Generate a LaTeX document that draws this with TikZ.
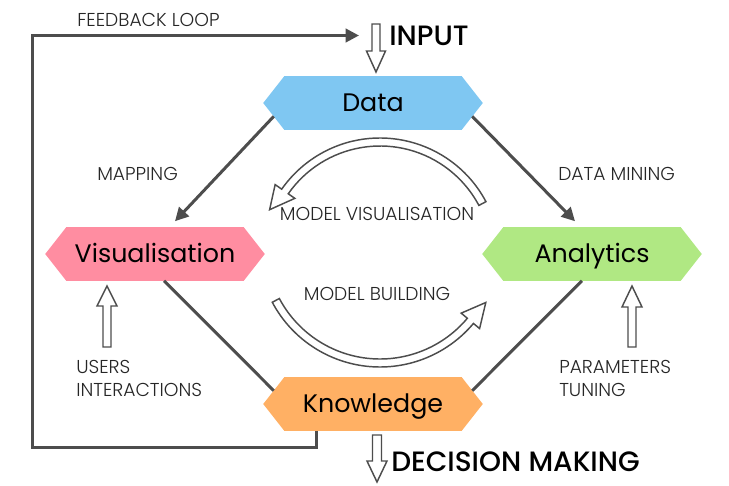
\documentclass[tikz,border=0pt]{standalone}
\usepackage{fontspec}
\setmainfont{Poppins}
\newfontfamily\lightfont{Poppins Light}
\newfontfamily\medfont{Poppins Medium}
\usetikzlibrary{arrows.meta,calc,backgrounds}
\definecolor{lin}{HTML}{4D4D4D}
\definecolor{cdata}{HTML}{7FC7F2}
\definecolor{cvis}{HTML}{FF8DA1}
\definecolor{cana}{HTML}{B0E883}
\definecolor{cknow}{HTML}{FFB064}
\begin{document}
\begin{tikzpicture}[x=0.75pt,y=0.75pt,
  hexnode/.style={minimum width=164.25pt,minimum height=39.75pt,inner sep=0pt,
    font=\fontsize{19}{22}\selectfont,text height=13.3pt,text depth=0pt},
  lbl/.style={font=\lightfont\fontsize{14}{17.25}\selectfont,text=black!85,inner sep=0pt},
  big/.style={font=\medfont\fontsize{21}{24}\selectfont,inner sep=0pt},
  conn/.style={draw=lin,line width=2.25pt},
  tip/.style={-{Triangle[length=10pt,width=10pt]}},
  hollow/.style={draw=lin,line width=1.1pt,fill=white,line join=miter}]
\useasboundingbox (0,0) rectangle (729,-486);

% nodes
\node[hexnode] (d) at (373,-103) {Data};
\node[hexnode] (v) at (155,-254) {Visualisation};
\node[hexnode] (a) at (592,-254) {Analytics};
\node[hexnode] (k) at (373,-404) {Knowledge};

\begin{pgfonlayer}{background}
\fill[white] (0,0) rectangle (729,-486);
\foreach \n/\c in {d/cdata,v/cvis,a/cana,k/cknow}
  \fill[\c] (\n.west) -- ([xshift=15.75pt]\n.north west) -- ([xshift=-15.75pt]\n.north east)
    -- (\n.east) -- ([xshift=-15.75pt]\n.south east) -- ([xshift=15.75pt]\n.south west) -- cycle;
\end{pgfonlayer}

% connectors
\draw[conn,tip] ($(d.west)!0.5!(d.south west)+(10.5,0)$) -- ($(v.north)+(20,6)$);
\draw[conn,tip] ($(d.east)!0.5!(d.south east)+(-10.5,0)$) -- ($(a.north)+(-17,6)$);
\draw[conn] ($(v.south)+(9,0)$) -- ($(k.west)!0.5!(k.north west)+(10.5,0)$);
\draw[conn] ($(a.south)+(-10,0)$) -- ($(k.east)!0.5!(k.north east)+(-10.5,0)$);

% feedback loop
\coordinate (fbA) at ($(k.south)+(-57,0)$);
\coordinate (fbL) at (32,-447);
\coordinate (fbE) at (359,-35.5);
\draw[conn,tip,line join=miter] (fbA) |- (fbL) |- (fbE);

% hollow straight arrows
\draw[hollow] (372,-24) -- (380,-24) -- (380,-51) -- (385.5,-51) -- (376,-72) -- (366.5,-51) -- (372,-51) -- cycle;
\draw[hollow] (372.5,-435) -- (381.5,-435) -- (381.5,-461) -- (387,-461) -- (377,-482) -- (367,-461) -- (372.5,-461) -- cycle;
\draw[hollow] (103,-347) -- (111,-347) -- (111,-306) -- (117,-306) -- (107,-286) -- (97,-306) -- (103,-306) -- cycle;
\draw[hollow] (628,-347) -- (636,-347) -- (636,-307) -- (642,-307) -- (632,-286) -- (622,-307) -- (628,-307) -- cycle;

% curved hollow arrows
\begin{scope}[shift={(380,-258)}]
\draw[hollow] (28:120) arc[start angle=28,end angle=145,radius=90pt] -- (145:128)
  -- (-110.4,48.3) -- (145:104) -- (145:112) arc[start angle=145,end angle=28,radius=84pt] -- cycle;
\end{scope}
\begin{scope}[shift={(380,-245)}]
\draw[hollow] (208:122) arc[start angle=208,end angle=320,radius=91.5pt] -- (320:130)
  -- (105.8,-57.5) -- (320:106) -- (320:114) arc[start angle=320,end angle=208,radius=85.5pt] -- cycle;
\end{scope}

% labels
\node[lbl,anchor=west] (lfb) at (77,-20) {FEEDBACK LOOP};
\node[big,anchor=west] (lin) at (389,-36) {INPUT};
\node[big,anchor=west] (ldm) at (391,-462) {DECISION MAKING};
\node[lbl,anchor=west] (lmap) at (97,-174) {MAPPING};
\node[lbl,anchor=west] (ldmin) at (558,-174) {DATA MINING};
\node[lbl] (lmv) at (377,-214) {MODEL VISUALISATION};
\node[lbl] (lmb) at (377,-294) {MODEL BUILDING};
\node[lbl,anchor=west,align=left] (lui) at (76,-378) {USERS\\INTERACTIONS};
\node[lbl,anchor=west,align=left] (lpt) at (559,-378) {PARAMETERS\\TUNING};
\end{tikzpicture}
\end{document}
